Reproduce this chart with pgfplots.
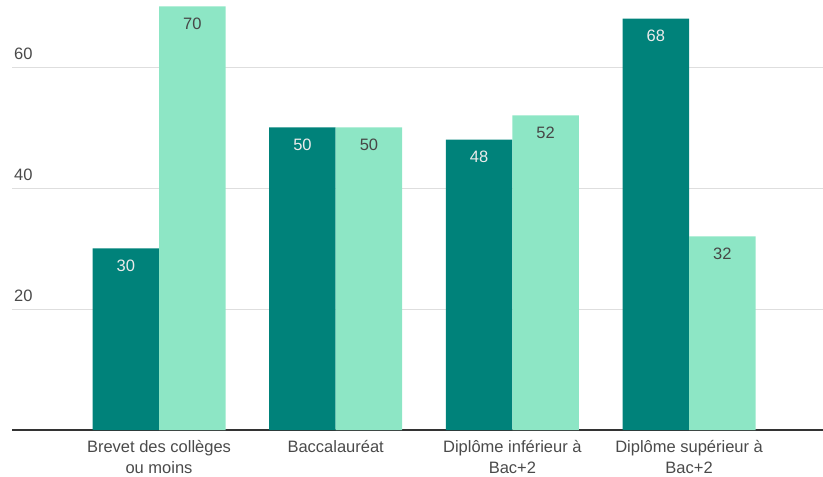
\documentclass[border=0pt]{standalone}
\usepackage{pgfplots}
\pgfplotsset{compat=1.18}
\usepackage{fontspec}
\setmainfont{Liberation Sans}
\definecolor{darkteal}{HTML}{00827A}
\definecolor{mint}{HTML}{8DE6C5}
\definecolor{txtgray}{HTML}{4A4A4A}
\begin{document}
\begin{tikzpicture}
\useasboundingbox (0,0) rectangle (823pt,477pt);
\begin{axis}[
    at={(12pt,47pt)}, anchor=south west,
    scale only axis, width=811pt, height=430pt,
    xmin=-0.832, xmax=3.758,
    ymin=0, ymax=71.07,
    axis x line*=bottom,
    axis y line*=left,
    x axis line style={-, draw=black!80, line width=1.2pt},
    y axis line style={draw=none},
    major tick length=0pt,
    xtick={0,1,2,3},
    xticklabels={
        Brevet des collèges\\ou moins,
        Baccalauréat,
        Diplôme inférieur à\\Bac+2,
        Diplôme supérieur à\\Bac+2
    },
    xticklabel style={align=center, text=txtgray, font=\fontsize{16.5}{20.5}\selectfont, yshift=-7pt},
    ytick={20,40,60},
    /pgf/number format/assume math mode=true,
    yticklabel style={anchor=south west, inner sep=0pt, xshift=2pt, yshift=7pt, text=txtgray, font=\fontsize{16.5}{18}\selectfont},
    ymajorgrids,
    grid style={draw=black!13, line width=0.9pt},
    ybar, bar width=66.5pt,
    nodes near coords,
    every node near coord/.append style={anchor=north, inner sep=0pt, yshift=-11pt, font=\fontsize{16.5}{18}\selectfont},
    clip=false,
]
\addplot[fill=darkteal, draw=none, bar shift=-33.25pt,
    every node near coord/.append style={text=black!8}]
coordinates {
    (0,30)
    (1,50)
    (2,48)
    (3,68)
};
\addplot[fill=mint, draw=none, bar shift=33.25pt,
    every node near coord/.append style={text=black!72}]
coordinates {
    (0,70)
    (1,50)
    (2,52)
    (3,32)
};
\end{axis}
\end{tikzpicture}
\end{document}
